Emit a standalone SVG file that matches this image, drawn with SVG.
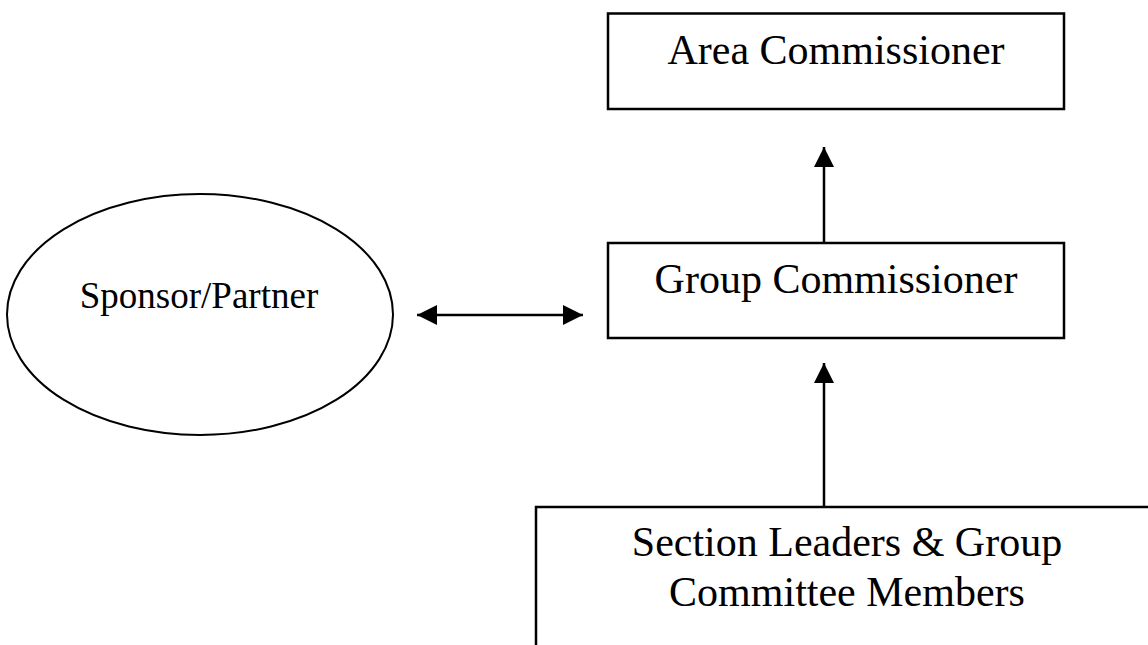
<svg xmlns="http://www.w3.org/2000/svg" width="1148" height="645" viewBox="0 0 1148 645">
  <style>
    .box { fill: #ffffff; stroke: #000000; stroke-width: 2.5; }
    .oval { fill: #ffffff; stroke: #000000; stroke-width: 2; }
    .lbl { font-family: "Liberation Serif", "Times New Roman", serif; fill: #000000; text-anchor: middle; }
    .big { font-size: 42px; }
    .small { font-size: 37px; }
    .conn { stroke: #000000; stroke-width: 2.5; fill: none; }
  </style>
  <defs>
    <marker id="arrow" viewBox="0 0 20 20" refX="20" refY="10" markerWidth="20" markerHeight="20" markerUnits="userSpaceOnUse" orient="auto-start-reverse">
      <path d="M0,0 L20,10 L0,20 z" fill="#000000"/>
    </marker>
  </defs>
  <rect width="1148" height="645" fill="#ffffff"/>
  <g id="area-commissioner">
    <rect class="box" x="608" y="13.5" width="456" height="95.5"/>
    <text class="lbl big" x="836" y="64">Area Commissioner</text>
  </g>
  <g id="group-commissioner">
    <rect class="box" x="608" y="243" width="456" height="95"/>
    <text class="lbl big" x="836" y="292.5">Group Commissioner</text>
  </g>
  <g id="sponsor-partner">
    <ellipse class="oval" cx="200" cy="314.5" rx="193" ry="120.5"/>
    <text class="lbl small" x="199" y="307.7">Sponsor/Partner</text>
  </g>
  <g id="section-leaders">
    <rect class="box" x="536" y="507" width="640" height="200"/>
    <text class="lbl big" x="847" y="556">Section Leaders &amp; Group</text>
    <text class="lbl big" x="847" y="605.5">Committee Members</text>
  </g>
  <g id="connectors">
    <line class="conn" x1="824" y1="243" x2="824" y2="147" marker-end="url(#arrow)"/>
    <line class="conn" x1="824" y1="507" x2="824" y2="363" marker-end="url(#arrow)"/>
    <line class="conn" x1="417" y1="315" x2="583" y2="315" marker-start="url(#arrow)" marker-end="url(#arrow)"/>
  </g>
</svg>
